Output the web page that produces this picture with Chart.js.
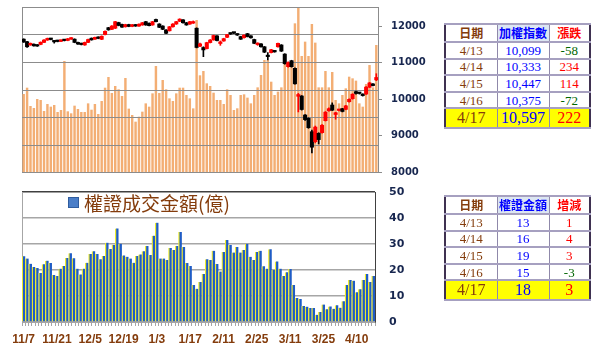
<!DOCTYPE html>
<html><head><meta charset="utf-8">
<script src="https://cdn.jsdelivr.net/npm/chart.js@4.4.1/dist/chart.umd.min.js"></script>
<style>
html,body{margin:0;padding:0;background:#fff;width:600px;height:357px;overflow:hidden;}
canvas{position:absolute;left:0;}
#c1{top:0;}
#c2{top:180px;}
#legend{position:absolute;left:68px;top:190px;height:24px;display:flex;align-items:center;font-family:'Noto Sans CJK TC';font-size:19px;color:#843C0C;white-space:nowrap;}
#legend .sq{width:9px;height:9px;background:#4A7EC8;border:1px solid #2F5C9E;margin-right:5px;}
table.tbl{position:absolute;left:444px;width:145px;border-collapse:collapse;table-layout:fixed;border:2px solid #3F3151;background:#fff;}
table.tbl td{padding:0;text-align:center;vertical-align:middle;border-left:1px solid #8F88AA;border-right:1px solid #8F88AA;border-top:2px solid #A6A0C0;border-bottom:2px solid #A6A0C0;font-family:'Liberation Serif';font-size:13px;line-height:1;overflow:hidden;white-space:nowrap;}
table.tbl tr.hd td{font-family:'Noto Sans CJK TC';font-weight:bold;font-size:12px;height:16px;}
table.tbl tr.rw td{height:14.6px;}
table.tbl tr.ye td{background:#FFFF00;font-size:16px;height:18px;}
.cd{color:#843C0C;}
.cv{color:#0000FF;}
.hv{background:#DCE6F2;}
.cr{color:#FF0000;}
.cg{color:#006600;}
</style></head>
<body>
<canvas id="c1" width="440" height="180" style="width:440px;height:180px"></canvas>
<canvas id="c2" width="440" height="177" style="width:440px;height:177px"></canvas>
<div id="legend"><span class="sq"></span><span>權證成交金額(億)</span></div>
<table class="tbl" id="t1" style="top:23px"><colgroup><col style="width:52px"><col style="width:52px"><col style="width:41px"></colgroup></table>
<table class="tbl" id="t2" style="top:195px"><colgroup><col style="width:52px"><col style="width:52px"><col style="width:41px"></colgroup></table>
<script>
// ---------- data ----------
const dates = ['11/7','11/8','11/11','11/12','11/13','11/14','11/15','11/18','11/19','11/20','11/21','11/22','11/25','11/26','11/27','11/28','11/29',
'12/2','12/3','12/4','12/5','12/6','12/9','12/10','12/11','12/12','12/13','12/16','12/17','12/18','12/19','12/20','12/23','12/24','12/25','12/26','12/27','12/30','12/31',
'1/2','1/3','1/6','1/7','1/8','1/9','1/10','1/13','1/14','1/15','1/16','1/17','1/20','1/30','1/31',
'2/3','2/4','2/5','2/6','2/7','2/10','2/11','2/12','2/13','2/14','2/17','2/18','2/19','2/20','2/21','2/24','2/25','2/26','2/27',
'3/2','3/3','3/4','3/5','3/6','3/9','3/10','3/11','3/12','3/13','3/16','3/17','3/18','3/19','3/20','3/23','3/24','3/25','3/26','3/27','3/30','3/31',
'4/1','4/6','4/7','4/8','4/9','4/10','4/13','4/14','4/15','4/16','4/17'];

// top chart covers 11/8 .. 4/17
const taiexDates = dates.slice(1);

const taiexOpen = [11650,11580,11490,11510,11490,11505,11560,11625,11665,11585,
11610,11590,11630,11615,11650,11650,11560,11530,11490,11560,
11675,11650,11705,11645,11775,11965,11920,11950,12105,12055,
11990,12050,12000,12045,12010,12040,12130,12085,12040,12190,
12065,12010,11900,11880,11990,12065,12140,12180,12100,12065,
12090,11950,11455,11420,11390,11555,11630,11740,11530,11600,
11700,11800,11830,11790,11720,11690,11800,11740,11640,11500,
11520,11440,11180,11280,11330,11440,11490,11240,10893,11058,
10848,10080,10088,9566,9474,9107,8833,9062,9080,9410,
9680,9840,9580,9690,9740,9720,9930,10014,10207,10170,
10140,10140,10330,10420,10530];

const taiexClose = [11570,11440,11535,11465,11460,11565,11625,11670,11640,11575,
11585,11620,11610,11660,11680,11560,11515,11500,11560,11640,
11630,11700,11670,11730,11865,11905,12010,12130,12025,11980,
12050,12000,12045,12010,12060,12100,12040,12020,12130,12130,
11975,11920,11810,11990,12065,12130,12200,12100,12040,12130,
12120,11421,11520,11354,11555,11625,11750,11612,11575,11664,
11774,11791,11815,11763,11648,11760,11720,11686,11534,11540,
11440,11292,11170,11360,11300,11535,11321,10977,11003,10893,
10422,10128,9717,9439,9218,8681,9234,8890,9285,9644,
9740,9698,9629,9708,9663,9818,9996,10137,10158,10157,
10099,10333,10447,10375,10597];

const taiexHigh = [11660,11590,11545,11520,11500,11575,11635,11680,11675,11610,
11620,11630,11640,11670,11690,11660,11570,11540,11570,11650,
11685,11710,11715,11740,11875,11975,12020,12140,12115,12065,
12060,12060,12055,12055,12070,12110,12140,12095,12140,12200,
12075,12020,11910,12000,12075,12140,12210,12190,12110,12140,
12150,11960,11540,11440,11565,11640,11760,11750,11600,11675,
11785,11820,11840,11800,11730,11770,11810,11750,11650,11550,
11530,11450,11280,11370,11340,11545,11500,11250,11030,11070,
10860,10160,10100,9580,9490,9150,9263,9080,9300,9660,
9760,9900,9640,9720,9750,9830,10010,10150,10220,10180,
10150,10345,10460,10430,10700];

const taiexLow = [11560,11420,11480,11455,11450,11495,11550,11615,11630,11540,
11575,11580,11600,11605,11640,11550,11505,11490,11480,11550,
11620,11640,11660,11635,11765,11895,11910,11940,12015,11970,
11980,11990,11990,12000,12000,12030,12030,12010,12030,12120,
11965,11910,11800,11870,11980,12055,12130,12090,12030,12055,
12080,11410,11440,11168,11380,11545,11620,11600,11480,11590,
11690,11780,11800,11750,11640,11680,11710,11676,11524,11480,
11430,11280,11080,11270,11290,11430,11310,10960,10880,10880,
10410,9650,9700,9420,9200,8523,8800,8770,9070,9400,
9670,9690,9450,9680,9650,9710,9920,10000,10140,10140,
10085,10130,10320,10365,10510];

const turnover = [1418,1533,1200,1164,1327,1309,1109,1236,1188,1218,
1091,1127,2018,1103,1067,1206,1145,1091,1091,1248,
1133,1236,1055,1291,1533,1727,1436,1564,1503,1382,
1709,1152,1036,915,1006,1097,1248,1188,1430,1927,
1436,1673,1503,1339,1291,1430,1533,1533,1400,1339,
1157,2764,1758,1836,1612,1564,1442,1309,1309,1236,
1503,1400,1127,1158,1400,1412,1352,1248,1400,1539,
1764,2036,2036,1642,1400,1461,1539,2024,1915,1945,
2703,2994,2109,2370,2109,2691,2352,1539,1539,1836,
1539,1818,1309,1248,1400,1521,1733,1703,1661,1248,
1188,1600,1945,1539,2309];

const warrant = [25.3,24.4,22.4,21.2,20.8,18.8,22.2,23.6,22.7,18.1,
17.7,20.5,21.5,24.6,26.4,24.5,20.5,18.3,20.5,22.8,
26.2,27.2,26.2,24.1,25.4,30.5,28.1,29.6,36.0,30.1,
25.6,25.1,24.4,22.8,25.4,26.0,27.2,29.2,25.8,33.2,
38.2,24.4,24.4,23.8,28.5,27.7,29.2,34.6,28.8,22.7,
21.5,14.2,12.8,15.4,18.5,24.1,23.8,27.4,22.3,19.4,
26.9,31.5,29.6,26.7,28.8,26.7,27.7,30.1,25.1,23.8,
26.9,27.4,21.4,20.5,28.0,20.0,23.3,20.5,17.7,19.1,
20.4,14.2,9.2,8.8,6.2,5.9,5.4,5.4,2.8,3.8,
6.7,4.9,6.0,5.1,6.4,5.5,8.0,14.2,16.2,15.9,
11.4,12.6,16.2,18.5,15.4,17.7];

const priceTicks = [8000,9000,10000,11000,12000];
const turnoverGrid = [0,500,1000,1500,2000,2500,3000];
const warrantTicks = [0,10,20,30,40,50];

// tables
const tblDates = ['4/13','4/14','4/15','4/16','4/17'];
const tblIndex = ['10,099','10,333','10,447','10,375','10,597'];
const tblIndexChg = [-58,234,114,-72,222];
const tblWarrant = [13,16,19,15,18];
const tblWarrantChg = [1,4,3,-3,3];

// ---------- build tables ----------
function buildTable(id, head, vals, chgs){
  const t = document.getElementById(id);
  let h = '<tr class="hd"><td class="cd">'+head[0]+'</td><td class="cv hv">'+head[1]+'</td><td class="cr">'+head[2]+'</td></tr>';
  for(let i=0;i<tblDates.length;i++){
    const cls = i===tblDates.length-1 ? 'ye' : 'rw';
    h += '<tr class="'+cls+'"><td class="cd">'+tblDates[i]+'</td><td class="cv">'+vals[i]+'</td><td class="'+(chgs[i]<0?'cg':'cr')+'">'+chgs[i]+'</td></tr>';
  }
  t.insertAdjacentHTML('beforeend', h);
}
buildTable('t1',['日期','加權指數','漲跌'],tblIndex,tblIndexChg);
buildTable('t2',['日期','權證金額','增減'],tblWarrant,tblWarrantChg);

// ---------- charts ----------
Chart.defaults.font.family = 'DejaVu Sans';
const candleColors = taiexClose.map((c,i)=> c>=taiexOpen[i] ? '#FF0000' : '#000000');
const bodies = taiexOpen.map((o,i)=>[o, taiexClose[i]]);
const wicks = taiexLow.map((l,i)=>[l, taiexHigh[i]]);

function noPad(s){ s.paddingTop = 0; s.paddingBottom = 0; }

// horizontal volume grid drawn over the volume bars but under the candles
const volGridPlugin = {
  id:'volGrid',
  afterDatasetDraw(chart, args){
    if (args.index !== 2) return;
    const sc = chart.scales.vol, area = chart.chartArea, ctx = chart.ctx;
    ctx.save();
    ctx.strokeStyle = '#8C8C8C';
    ctx.lineWidth = 1;
    turnoverGrid.forEach(v=>{
      const y = Math.round(sc.getPixelForValue(v)) + 0.5;
      ctx.beginPath(); ctx.moveTo(area.left, y); ctx.lineTo(area.right, y); ctx.stroke();
    });
    ctx.restore();
  }
};

new Chart(document.getElementById('c1'), {
  type:'bar',
  data:{
    labels: taiexDates,
    datasets:[
      {data:bodies, backgroundColor:candleColors, yAxisID:'price', grouped:false, barPercentage:1, categoryPercentage:1, minBarLength:1.5, order:1},
      {data:wicks, backgroundColor:candleColors, yAxisID:'price', grouped:false, barThickness:1, order:2},
      {data:turnover, backgroundColor:'#F3AE74', yAxisID:'vol', grouped:false, barPercentage:0.72, categoryPercentage:1, order:3}
    ]
  },
  plugins:[volGridPlugin],
  options:{
    responsive:false, animation:false, events:[],
    layout:{padding:{left:22, top:7, bottom:8, right:0}},
    plugins:{legend:{display:false}, tooltip:{enabled:false}},
    scales:{
      x:{display:false, offset:true},
      vol:{position:'left', min:0, max:3000,
        afterBuildTicks(s){ s.ticks = turnoverGrid.map(v=>({value:v})); },
        ticks:{display:false}, grid:{display:false, drawTicks:false},
        border:{display:true, color:'#8C8C8C'}, afterFit(s){ s.width = 0; noPad(s); }},
      price:{position:'right', min:8000, max:12533,
        afterBuildTicks(s){ s.ticks = priceTicks.map(v=>({value:v})); },
        ticks:{color:'#17264F', font:{family:'DejaVu Sans', size:10, weight:'bold'}, padding:9,
          callback:(v)=> String(v)},
        grid:{drawOnChartArea:false, tickLength:4, color:'#8C8C8C'},
        border:{display:true, color:'#8C8C8C'}, afterFit(s){ s.width = 62; noPad(s); }}
    }
  }
});

new Chart(document.getElementById('c2'), {
  type:'bar',
  data:{
    labels: dates,
    datasets:[{data:warrant, backgroundColor:'#1F5CC6', borderColor:'#F0EC2C',
      borderWidth:{left:1.3, right:0, top:0, bottom:0}, borderSkipped:false,
      barPercentage:1, categoryPercentage:1, yAxisID:'y'}]
  },
  options:{
    responsive:false, animation:false, events:[],
    layout:{padding:{left:22, top:12, bottom:0, right:0}},
    plugins:{legend:{display:false}, tooltip:{enabled:false}},
    scales:{
      x:{offset:true,
        grid:{display:true, drawOnChartArea:false, tickLength:4, color:'#A6A6A6', offset:true},
        border:{display:true, color:'#A6A6A6'},
        ticks:{autoSkip:false, maxRotation:0, minRotation:0, padding:6, color:'#843C0C',
          font:{family:'Liberation Sans', size:12, weight:'bold'},
          callback:function(v,i){ return i%10===0 ? this.getLabelForValue(v) : ''; }},
        afterFit(s){ s.height = 35; }},
      y:{position:'right', min:0, max:50,
        afterBuildTicks(s){ s.ticks = warrantTicks.map(v=>({value:v})); },
        ticks:{padding:14, color:'#17264F', font:{family:'DejaVu Sans', size:11, weight:'bold'}},
        grid:{drawTicks:false, lineWidth:1.6, color:(c)=> (c.tick && c.tick.value===50) ? '#404040' : '#A6A6A6'},
        border:{display:true, color:'#404040'}, afterFit(s){ s.width = 65; noPad(s); }},
      yl:{position:'left', min:0, max:50, ticks:{display:false}, grid:{display:false, drawTicks:false},
        border:{display:true, color:'#A6A6A6'}, afterFit(s){ s.width = 0; noPad(s); }}
    }
  }
});
</script>
</body></html>
